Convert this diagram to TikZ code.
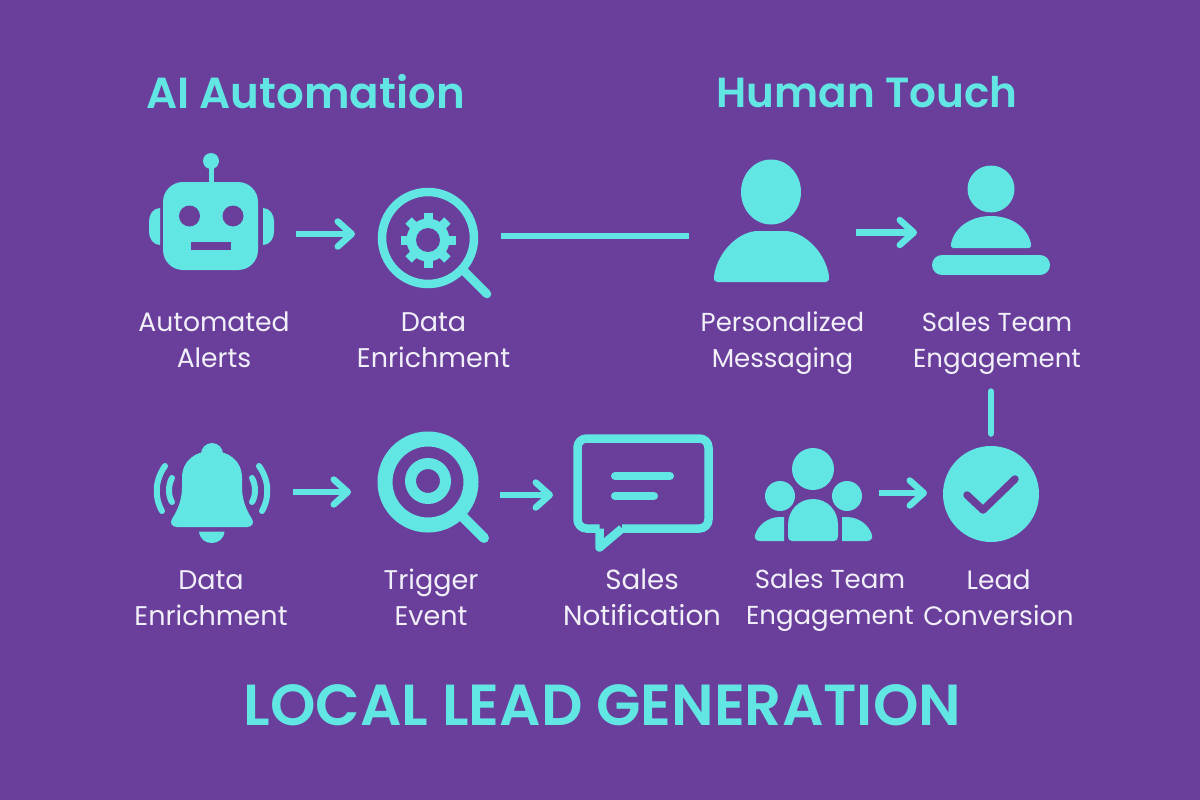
\documentclass[tikz,border=0pt]{standalone}
\usepackage{fontspec}
\setmainfont{Poppins}
\newfontfamily\titlefont{Poppins SemiBold}
\usetikzlibrary{arrows.meta}
\definecolor{bgp}{HTML}{6A3F9C}
\definecolor{cy}{HTML}{62E6E4}
\definecolor{lab}{HTML}{F1EFF8}
\tikzset{
  slot/.style={inner sep=0pt,outer sep=0pt,minimum height=1pt},
  flow/.style={draw=cy,line width=6.5pt,-{Straight Barb[length=14pt,width=25pt,round]}},
  link/.style={draw=cy,line width=6.5pt},
  ico/.style={fill=cy,draw=none},
  hole/.style={fill=bgp,draw=none},
  ring/.style={draw=cy,fill=none},
  bar/.style={draw=cy,line cap=round},
  lbl/.style={text=lab,align=center,font=\fontsize{27}{36}\selectfont},
  lbls/.style={text=lab,align=center,font=\fontsize{26}{36}\selectfont},
  ttl/.style={text=cy,font=\titlefont\fontsize{43.5}{50}\selectfont},
}
\begin{document}
\begin{tikzpicture}[x=1pt,y=-1pt]
\fill[bgp] (0,0) rectangle (1200,800);
\useasboundingbox (0,0) rectangle (1200,800);
% titles
\node[ttl] (t1) at (305.5,92) {AI Automation};
\node[ttl,font=\titlefont\fontsize{42.1}{50}\selectfont] (t2) at (867,92) {Human Touch};
\node[ttl,font=\titlefont\fontsize{57.9}{64}\selectfont] (t3) at (602.5,705) {LOCAL LEAD GENERATION};
% labels
\node[lbl,font=\fontsize{26.6}{36}\selectfont] (l1) at (214,340) {Automated\\Alerts};
\node[lbl] (l2) at (433.5,340) {Data\\Enrichment};
\node[lbls] (l3) at (782.5,343) {Personalized\\Messaging};
\node[lbls] (l4) at (997,343) {Sales Team\\Engagement};
\node[lbl] (l5) at (211,598.5) {Data\\Enrichment};
\node[lbl] (l6) at (431,597.5) {Trigger\\Event};
\node[lbl,font=\fontsize{27.7}{36}\selectfont] (l7) at (642,597.5) {Sales\\Notification};
\node[lbls] (l8) at (830,600) {Sales Team\\Engagement};
\node[lbl,font=\fontsize{26.6}{36}\selectfont] (l9) at (998.5,598) {Lead\\Conversion};
% anchors for the icons (width = the space between the connectors)
\node[slot,minimum width=170pt] (robot) at (211,234) {};
\node[slot,minimum width=146pt] (gear) at (428,234) {};
\node[slot,minimum width=167pt] (person) at (772.5,232.5) {};
\node[slot,minimum width=148pt] (desk) at (991,232.5) {};
\node[slot,minimum width=164pt] (bell) at (211,492) {};
\node[slot,minimum width=149pt] (target) at (425.5,492) {};
\node[slot,minimum width=154pt] (chat) at (630,495) {};
\node[slot,minimum width=131pt] (team) at (813,493) {};
\node[slot,minimum width=128pt,minimum height=114pt] (check) at (991,493) {};
\node[slot,minimum width=10pt,minimum height=102pt] (deskdown) at (991,335) {};
% robot
\fill[ico] (163,202) arc[start angle=180,end angle=270,radius=20] -- (238,182) arc[start angle=270,end angle=360,radius=20] -- (258,250) arc[start angle=0,end angle=90,radius=20] -- (183,270) arc[start angle=90,end angle=180,radius=20] -- cycle;
\fill[ico] (208.5,165) rectangle (213.5,184);
\fill[ico] (211,161) circle (8);
\fill[hole] (189.5,216) circle (10.5) (233,216) circle (10.5);
\fill[hole] (191,242) rectangle (231,250);
\fill[ico] (160,208) to[out=180,in=90] (149,221) -- (149,232) to[out=-90,in=180] (160,245) -- cycle;
\fill[ico] (263,208) to[out=0,in=90] (274,221) -- (274,232) to[out=-90,in=0] (263,245) -- cycle;
% magnifier + gear
\draw[ring,line width=8.5pt] (428,238) circle (46);
\draw[bar,line width=8.5pt] (463,270) -- (487,294);
\foreach \a in {0,45,...,315}{
  \fill[ico,rotate around={\a:(428,240)}] (423.5,212.5) rectangle (432.5,225);
}
\fill[ico] (428,240) circle (21.5);
\fill[hole] (428,240) circle (12);
% persons
\fill[ico] (771,192) ellipse [x radius=30,y radius=32.5];
\fill[ico] (717,282) -- (826,282) .. controls (829,282) and (829.5,279) .. (829,276) .. controls (825,250) and (802,231) .. (785,231) -- (758,231) .. controls (740,231) and (718,250) .. (714,276) .. controls (713.5,279) and (714,282) .. (717,282) -- cycle;
\fill[ico] (991,189) circle (23.5);
\fill[ico] (953,248) -- (1029,248) .. controls (1031,248) and (1031,246) .. (1031,244) .. controls (1028,228) and (1012,216) .. (991,216) .. controls (970,216) and (954,228) .. (951,244) .. controls (951,246) and (951,248) .. (953,248) -- cycle;
\draw[cy,line width=20pt,line cap=round] (942,265) -- (1040,265);
% bell
\fill[ico] (212,454) circle (11);
\fill[ico] (177,527) -- (247,527) .. controls (253,527) and (254,522) .. (252,519) .. controls (245,508) and (242,498) .. (242,487) -- (242,478) .. controls (242,460) and (228,451) .. (212,451) .. controls (196,451) and (182,460) .. (182,478) -- (182,487) .. controls (182,498) and (179,508) .. (172,519) .. controls (170,522) and (171,527) .. (177,527) -- cycle;
\fill[ico] (199,531.5) -- (224.5,531.5) .. controls (224,539) and (218,543) .. (211.7,543) .. controls (205,543) and (200,539) .. (199,531.5) -- cycle;
\draw[bar,line width=6pt] (165,466) .. controls (155,480) and (154,497) .. (162,511);
\draw[bar,line width=6pt] (172,478) .. controls (168,485) and (168,496) .. (172,502);
\draw[bar,line width=6pt] (259,466) .. controls (269,480) and (270,497) .. (262,511);
\draw[bar,line width=6pt] (252,478) .. controls (256,485) and (256,496) .. (252,502);
% target
\draw[ring,line width=15pt] (428,482) circle (43);
\draw[bar,line width=10pt] (462,516) -- (484,538);
\draw[ring,line width=11pt] (428,481) circle (17.5);
% chat
\draw[cy,line width=8.5pt,line join=round,rounded corners=9pt] (599.5,528.5) -- (577.5,528.5) -- (577.5,438.5) -- (708.5,438.5) -- (708.5,528.5) -- (622,528.5);
\draw[cy,line width=8.5pt,line join=round] (622,528.5) -- (599.5,547.5) -- (599.5,528.5);
\draw[bar,line width=8pt] (615,476) -- (670,476);
\draw[bar,line width=8pt] (615,496) -- (654,496);
% team
\fill[ico] (813,469) circle (21);
\fill[ico] (780,496) circle (15);
\fill[ico] (847,496) circle (15);
\fill[ico] (792,541) -- (834,541) .. controls (837,541) and (838,539) .. (838,536) -- (838,525) .. controls (838,510) and (827,499) .. (813,499) .. controls (799,499) and (788,510) .. (788,525) -- (788,536) .. controls (788,539) and (789,541) .. (792,541) -- cycle;
\fill[ico] (784,517) -- (784,541) -- (760,541) .. controls (756,541) and (754,538) .. (755,535) .. controls (758,525) and (768,517) .. (780,517) -- cycle;
\fill[ico] (842,517) -- (842,541) -- (867,541) .. controls (871,541) and (873,538) .. (872,535) .. controls (869,525) and (859,517) .. (846,517) -- cycle;
% check
\fill[ico] (991,494) circle (48);
\draw[draw=bgp,line width=7.5pt,line cap=round,line join=round] (967,495) -- (983,510) -- (1015,479);
% connectors
\draw[flow] (robot.east) -- (gear.west);
\draw[link] ([yshift=-2pt]gear.east) -- ([yshift=-3.5pt]person.west);
\draw[flow] (person.east) -- (desk.west);
\draw[flow] (bell.east) -- (target.west);
\draw[flow] ([yshift=-3pt]target.east) -- (chat.west);
\draw[flow] (team.east) -- (check.west);
\draw[link,line cap=round] ([yshift=-5.5pt]deskdown.south) -- ([yshift=2.5pt]check.north);
\end{tikzpicture}
\end{document}
